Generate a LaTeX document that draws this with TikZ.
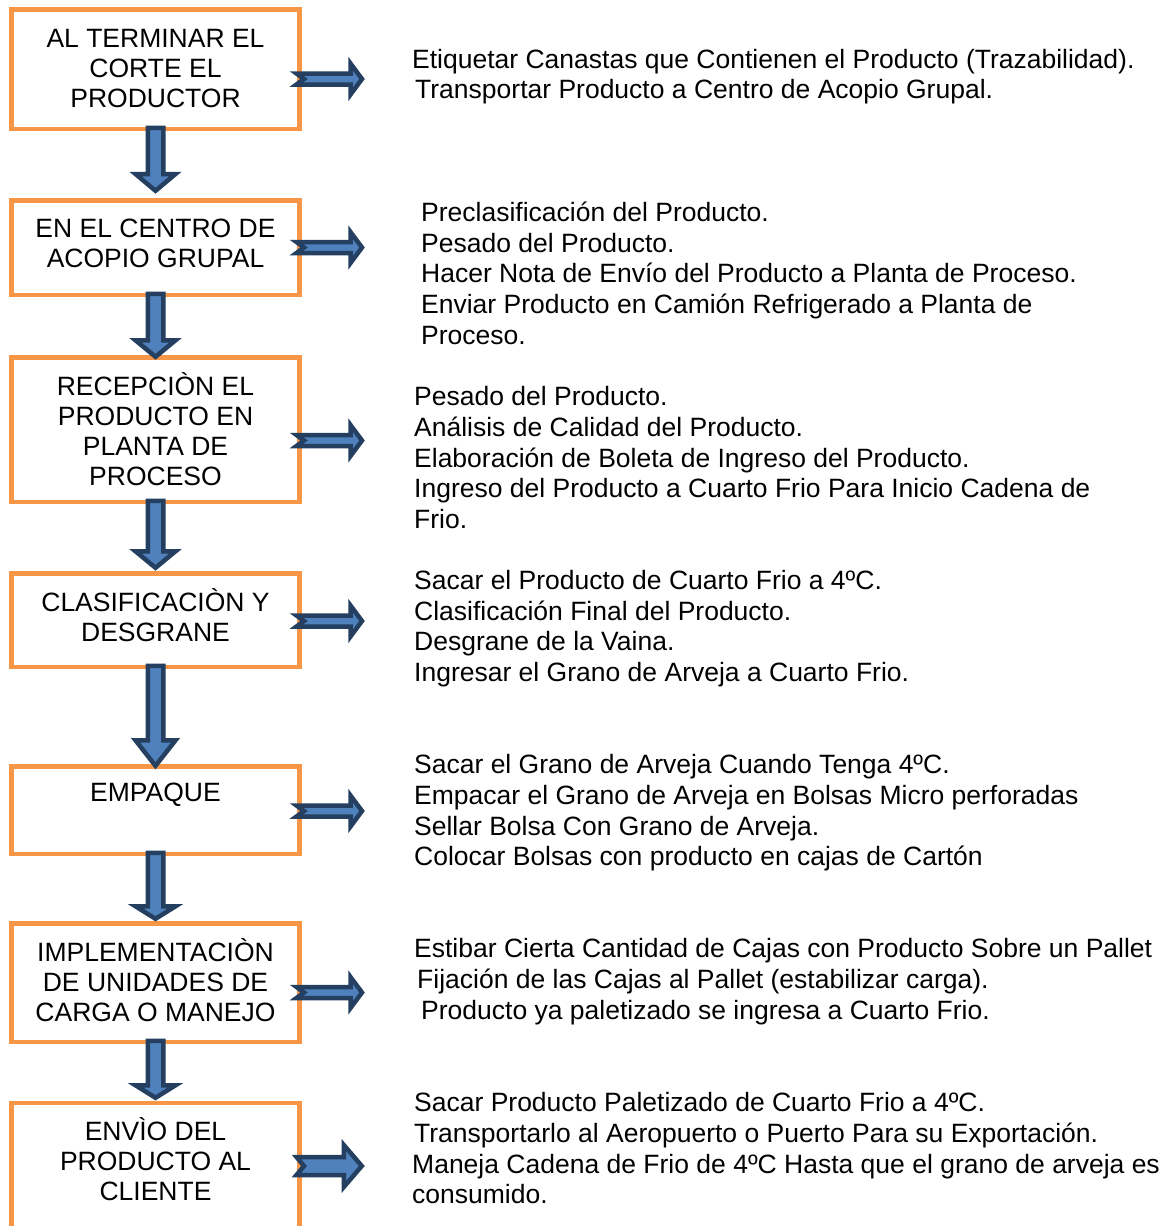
\documentclass[tikz,border=0pt]{standalone}
\usepackage{fontspec}
\setmainfont{Liberation Sans}
\usetikzlibrary{calc}
\definecolor{boxorange}{HTML}{F79646}
\definecolor{arrowfill}{HTML}{4F81BD}
\definecolor{arrowline}{HTML}{243F60}
\tikzset{
  flowbox/.style={draw=boxorange, line width=4.5pt, fill=white, rectangle, inner sep=0pt, outer sep=0pt, minimum width=288pt},
  boxline/.style={font=\fontsize{26.5}{30.5}\selectfont, text height=19pt, text depth=0pt, inner sep=0pt, anchor=center},
  infoline/.style={font=\fontsize{26.5}{30.5}\selectfont, text height=19pt, text depth=0pt, inner sep=0pt, anchor=west},
  blockarrow/.style={draw=arrowline, fill=arrowfill, line width=4.5pt, line join=miter, miter limit=10},
}
% down arrow: from, to, head length, tip offset (down-positive, relative to to.north)
\newcommand\flowdown[4]{%
  \draw[blockarrow] let \p1=(#1.south), \p2=(#2.north) in
    (\x1-7.75pt,\y1+1pt) -- (\x1-7.75pt,{\y2-(#4)+#3}) -- (\x1-20pt,{\y2-(#4)+#3})
    -- (\x1,{\y2-(#4)}) -- (\x1+20pt,{\y2-(#4)+#3}) -- (\x1+7.75pt,{\y2-(#4)+#3})
    -- (\x1+7.75pt,\y1+1pt) -- cycle;}
% right arrow: from box, tip coordinate, head length, head half, shaft half
\newcommand\flowright[5]{%
  \draw[blockarrow] let \p1=(#1.east), \p2=(#2) in
    (\x1-3pt,\y2+#5) -- (\x2-#3,\y2+#5) -- (\x2-#3,\y2+#4) -- (\x2,\y2)
    -- (\x2-#3,\y2-#4) -- (\x2-#3,\y2-#5) -- (\x1-3pt,\y2-#5) -- (\x1+4.5pt,\y2) -- cycle;}
\begin{document}
\begin{tikzpicture}[x=1pt,y=-1pt]
\useasboundingbox (0,0) rectangle (1171,1226);
\fill[white] (0,0) rectangle (1171,1226);
\clip (0,0) rectangle (1171,1226);

% boxes
\node[flowbox, minimum height=119.5pt] (b1) at (155.5,69) {};
\node[flowbox, minimum height=94.5pt]  (b2) at (155.5,247.5) {};
\node[flowbox, minimum height=144.5pt] (b3) at (155.5,429.5) {};
\node[flowbox, minimum height=93.5pt]  (b4) at (155.5,620) {};
\node[flowbox, minimum height=87.5pt]  (b5) at (155.5,810) {};
\node[flowbox, minimum height=118.5pt] (b6) at (155.5,982.5) {};
\node[flowbox, minimum height=196.75pt] (b7) at (155.5,1201.6) {};

% down arrows
\flowdown{b1}{b2}{16.8pt}{-9.45pt}
\flowdown{b2}{b3}{16.5pt}{-0.45pt}
\flowdown{b3}{b4}{16.5pt}{-5.45pt}
\flowdown{b4}{b5}{25.5pt}{-0.45pt}
\flowdown{b5}{b6}{12.5pt}{-4.45pt}
\flowdown{b6}{b7}{12.5pt}{-5.45pt}

% right arrows
\coordinate (r1) at (362,79);
\coordinate (r2) at (362,247.5);
\coordinate (r3) at (362,440.5);
\coordinate (r4) at (362,621);
\coordinate (r5) at (362,811);
\coordinate (r6) at (362,992.5);
\coordinate (r7) at (361.8,1166);
\flowright{b1}{r1}{11.5pt}{15.5pt}{5.5pt}
\flowright{b2}{r2}{11.5pt}{15.5pt}{5.5pt}
\flowright{b3}{r3}{11.5pt}{15.5pt}{5.5pt}
\flowright{b4}{r4}{11.5pt}{15.5pt}{5.5pt}
\flowright{b5}{r5}{11.5pt}{15.5pt}{5.5pt}
\flowright{b6}{r6}{11.5pt}{15.5pt}{5.5pt}
\flowright{b7}{r7}{18pt}{21pt}{9pt}

% box texts
\foreach \t [count=\i] in {{AL TERMINAR EL},{CORTE EL},{PRODUCTOR}}
  \node[boxline] (b1l\i) at (155.5,{37.5+30.3*(\i-1)}) {\t};
\foreach \t [count=\i] in {{EN EL CENTRO DE},{ACOPIO GRUPAL}}
  \node[boxline] (b2l\i) at (155.5,{228+30.3*(\i-1)}) {\t};
\foreach \t [count=\i] in {{RECEPCIÒN EL},{PRODUCTO EN},{PLANTA DE},{PROCESO}}
  \node[boxline] (b3l\i) at (155.5,{385.5+30.3*(\i-1)}) {\t};
\foreach \t [count=\i] in {{CLASIFICACIÒN Y},{DESGRANE}}
  \node[boxline] (b4l\i) at (155.5,{601.5+30.3*(\i-1)}) {\t};
\node[boxline] (b5l1) at (155.5,792) {EMPAQUE};
\foreach \t [count=\i] in {{IMPLEMENTACIÒN},{DE UNIDADES DE},{CARGA O MANEJO}}
  \node[boxline] (b6l\i) at (155.5,{951.5+30.3*(\i-1)}) {\t};
\foreach \t [count=\i] in {{ENVÌO DEL},{PRODUCTO AL},{CLIENTE}}
  \node[boxline] (b7l\i) at (155.5,{1130.5+30.3*(\i-1)}) {\t};

% side texts
\node[infoline] (t1a) at (412,59) {Etiquetar Canastas que Contienen el Producto (Trazabilidad).};
\node[infoline] (t1b) at (415,89) {Transportar Producto a Centro de Acopio Grupal.};

\node[infoline] (t2a) at (421,212) {Preclasificación del Producto.};
\node[infoline] (t2b) at (421,243) {Pesado del Producto.};
\node[infoline] (t2c) at (421,273) {Hacer Nota de Envío del Producto a Planta de Proceso.};
\node[infoline] (t2d) at (421,304) {Enviar Producto en Camión Refrigerado a Planta de};
\node[infoline] (t2e) at (421,335) {Proceso.};

\node[infoline] (t3a) at (414,396) {Pesado del Producto.};
\node[infoline] (t3b) at (414,427) {Análisis de Calidad del Producto.};
\node[infoline] (t3c) at (414,458) {Elaboración de Boleta de Ingreso del Producto.};
\node[infoline] (t3d) at (414,488) {Ingreso del Producto a Cuarto Frio Para Inicio Cadena de};
\node[infoline] (t3e) at (414,519) {Frio.};

\node[infoline] (t4a) at (414,580) {Sacar el Producto de Cuarto Frio a 4ºC.};
\node[infoline] (t4b) at (414,611) {Clasificación Final del Producto.};
\node[infoline] (t4c) at (414,641) {Desgrane de la Vaina.};
\node[infoline] (t4d) at (414,672) {Ingresar el Grano de Arveja a Cuarto Frio.};

\node[infoline] (t5a) at (414,764) {Sacar el Grano de Arveja Cuando Tenga 4ºC.};
\node[infoline] (t5b) at (414,795) {Empacar el Grano de Arveja en Bolsas Micro perforadas};
\node[infoline] (t5c) at (414,826) {Sellar Bolsa Con Grano de Arveja.};
\node[infoline] (t5d) at (414,856) {Colocar Bolsas con producto en cajas de Cartón};

\node[infoline] (t6a) at (414,948) {Estibar Cierta Cantidad de Cajas con Producto Sobre un Pallet};
\node[infoline] (t6b) at (417,979) {Fijación de las Cajas al Pallet (estabilizar carga).};
\node[infoline] (t6c) at (421,1010) {Producto ya paletizado se ingresa a Cuarto Frio.};

\node[infoline] (t7a) at (414,1102) {Sacar Producto Paletizado de Cuarto Frio a 4ºC.};
\node[infoline] (t7b) at (414,1133) {Transportarlo al Aeropuerto o Puerto Para su Exportación.};
\node[infoline] (t7c) at (412,1164) {Maneja Cadena de Frio de 4ºC Hasta que el grano de arveja es};
\node[infoline] (t7d) at (412,1194) {consumido.};
\end{tikzpicture}
\end{document}
